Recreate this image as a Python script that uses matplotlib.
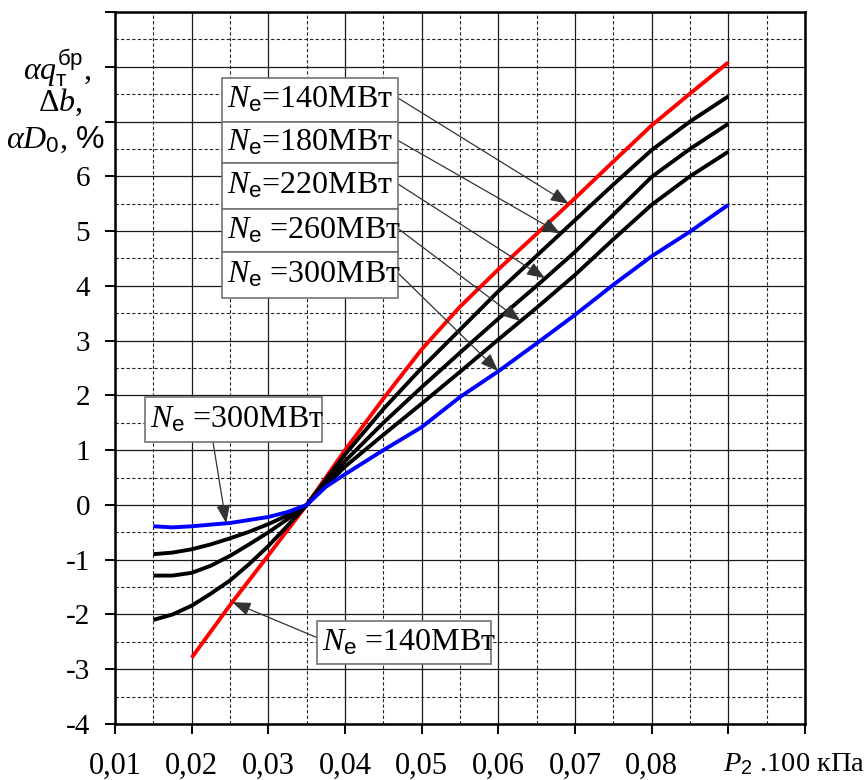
import numpy as np
import matplotlib
matplotlib.use('Agg')
import matplotlib.pyplot as plt
from matplotlib.patches import Rectangle

plt.rcParams['font.family'] = ['Liberation Serif', 'DejaVu Serif']
plt.rcParams['mathtext.fontset'] = 'custom'
plt.rcParams['mathtext.rm'] = 'Liberation Serif'
plt.rcParams['mathtext.it'] = 'Liberation Serif:italic'
plt.rcParams['mathtext.sf'] = 'Liberation Sans'

# Condenser pressure P2 (x100 kPa) and the relative change, %
x_140 = [0.020, 0.025, 0.030, 0.035, 0.040, 0.045, 0.050, 0.055,
         0.060, 0.065, 0.070, 0.075, 0.080, 0.085, 0.090]
y_140 = [-2.79, -1.83, -0.92, 0.0, 1.0, 1.94, 2.84, 3.62,
         4.30, 4.95, 5.60, 6.27, 6.93, 7.51, 8.08]

x_mid = [0.015, 0.0175, 0.020, 0.0225, 0.025, 0.0275, 0.030, 0.0325,
         0.035, 0.040, 0.045, 0.050, 0.055, 0.060, 0.065, 0.070,
         0.075, 0.080, 0.085, 0.090]
y_180 = [-2.10, -2.00, -1.84, -1.62, -1.38, -1.08, -0.75, -0.38,
         0.0, 0.92, 1.75, 2.50, 3.20, 3.90, 4.55, 5.20,
         5.85, 6.48, 7.00, 7.46]
y_220 = [-1.29, -1.29, -1.24, -1.11, -0.93, -0.72, -0.50, -0.26,
         0.0, 0.80, 1.50, 2.15, 2.78, 3.40, 4.00, 4.62,
         5.30, 5.99, 6.50, 6.96]
y_260 = [-0.90, -0.87, -0.81, -0.72, -0.61, -0.49, -0.35, -0.19,
         0.0, 0.70, 1.28, 1.85, 2.43, 3.02, 3.60, 4.20,
         4.85, 5.48, 6.00, 6.45]

x_300 = [0.015, 0.0175, 0.020, 0.025, 0.030, 0.0325, 0.035, 0.0375,
         0.040, 0.045, 0.050, 0.055, 0.060, 0.065, 0.070, 0.075,
         0.080, 0.085, 0.090]
y_300 = [-0.39, -0.41, -0.39, -0.33, -0.22, -0.13, 0.0, 0.33,
         0.56, 1.00, 1.42, 1.97, 2.44, 2.95, 3.47, 4.02,
         4.54, 4.99, 5.48]

x_ticks = [0.01, 0.02, 0.03, 0.04, 0.05, 0.06, 0.07, 0.08, 0.09, 0.10]
x_tick_labels = ['0,01', '0,02', '0,03', '0,04', '0,05', '0,06', '0,07', '0,08', '', '']
y_ticks = [-4, -3, -2, -1, 0, 1, 2, 3, 4, 5, 6, 7, 8, 9]
y_tick_labels = ['-4', '-3', '-2', '-1', '0', '1', '2', '3', '4', '5', '6', '', '', '']

W, H = 867, 780


def fpos(px, py):
    # pixel position (from top-left) -> figure fraction
    return px / W, 1 - py / H


fig = plt.figure(figsize=(W / 100, H / 100), dpi=100)
ax = fig.add_axes([115 / W, 1 - 724 / H, 690 / W, 712 / H])

ax.set_xlim(0.01, 0.10)
ax.set_ylim(-4, 9)
ax.set_xticks(x_ticks)
ax.set_xticklabels(x_tick_labels)
ax.set_yticks(y_ticks)
ax.set_yticklabels(y_tick_labels)
ax.set_xticks(np.arange(0.015, 0.1, 0.01), minor=True)
ax.set_yticks(np.arange(-3.5, 9, 1.0), minor=True)

ax.grid(which='major', color='0.1', lw=0.9)
ax.grid(which='minor', color='0.15', lw=0.8, ls=(0, (3, 2)))
ax.set_axisbelow(True)
ax.tick_params(which='major', direction='out', length=7, width=1.4)
ax.tick_params(axis='x', which='major', labelsize=22, pad=13)
ax.tick_params(axis='y', which='major', labelsize=21, pad=11)
ax.tick_params(which='minor', length=0)
for s in ax.spines.values():
    s.set_linewidth(1.8)

lw = 2.8
ax.plot(x_140, y_140, color='#ff0000', lw=lw, solid_capstyle='butt')
for yy in (y_180, y_220, y_260):
    ax.plot(x_mid, yy, color='black', lw=lw, solid_capstyle='butt')
ax.plot(x_300, y_300, color='#0000ff', lw=lw, solid_capstyle='butt')

# stacked label boxes with arrows to each curve
stack = [
    (r'$N_{\mathsf{e}}$=140MВт', 78, 122, x_140, y_140, 0.0692),
    (r'$N_{\mathsf{e}}$=180MВт', 122, 163, x_mid, y_180, 0.0681),
    (r'$N_{\mathsf{e}}$=220MВт', 163, 209, x_mid, y_220, 0.0661),
    (r'$N_{\mathsf{e}}$ =260MВт', 209, 252, x_mid, y_260, 0.0629),
    (r'$N_{\mathsf{e}}$ =300MВт', 252, 298, x_300, y_300, 0.0600),
]

arrow_kw = dict(arrowstyle='-|>,head_length=0.8,head_width=0.3',
                color='0.2', lw=0.9, mutation_scale=14,
                shrinkA=0, shrinkB=0)


def label_box(text, x0, x1, y0, y1):
    fx0, fy1 = fpos(x0, y1)
    fx1, fy0 = fpos(x1, y0)
    fig.patches.append(Rectangle((fx0, fy1), fx1 - fx0, fy0 - fy1,
                                 transform=fig.transFigure, fc='white',
                                 ec='0.45', lw=1.2, zorder=5))
    fig.text(fx0 + 5 / W, (fy0 + fy1) / 2, text, fontsize=23,
             ha='left', va='center', zorder=6)


for text, top, bot, xs, ys, xa in stack:
    ya = np.interp(xa, xs, ys)
    ax.annotate('', xy=(xa, ya), xytext=fpos(398, (top + bot) / 2 - 2),
                textcoords='figure fraction', arrowprops=arrow_kw,
                zorder=4)
    label_box(text, 222, 398, top, bot)

# single labels in the lower left
ax.annotate('', xy=(0.0245, np.interp(0.0245, x_300, y_300)),
            xytext=fpos(213, 442), textcoords='figure fraction',
            arrowprops=arrow_kw, zorder=4)
label_box(r'$N_{\mathsf{e}}$ =300MВт', 145, 322, 397, 442)

ax.annotate('', xy=(0.0253, np.interp(0.0253, x_140, y_140)),
            xytext=fpos(318, 638), textcoords='figure fraction',
            arrowprops=arrow_kw, zorder=4)
label_box(r'$N_{\mathsf{e}}$ =140MВт', 317, 491, 621, 664)

# axis titles
fig.text(*fpos(57, 68), r'$\alpha q_{\mathsf{т}}^{\mathsf{бр}}$,', fontsize=23,
         ha='center', va='center')
fig.text(*fpos(60, 102), r'$\Delta b$,', fontsize=23, ha='center', va='center')
fig.text(*fpos(55, 140), r'$\alpha D_{\mathsf{0}}$, $\mathsf{\%}$', fontsize=23,
         ha='center', va='center')
fig.text(*fpos(865, 764), r'$P_{\mathsf{2}}$ .100 кПа', fontsize=20.5,
         ha='right', va='center')

fig.savefig('out.png', dpi=100)
